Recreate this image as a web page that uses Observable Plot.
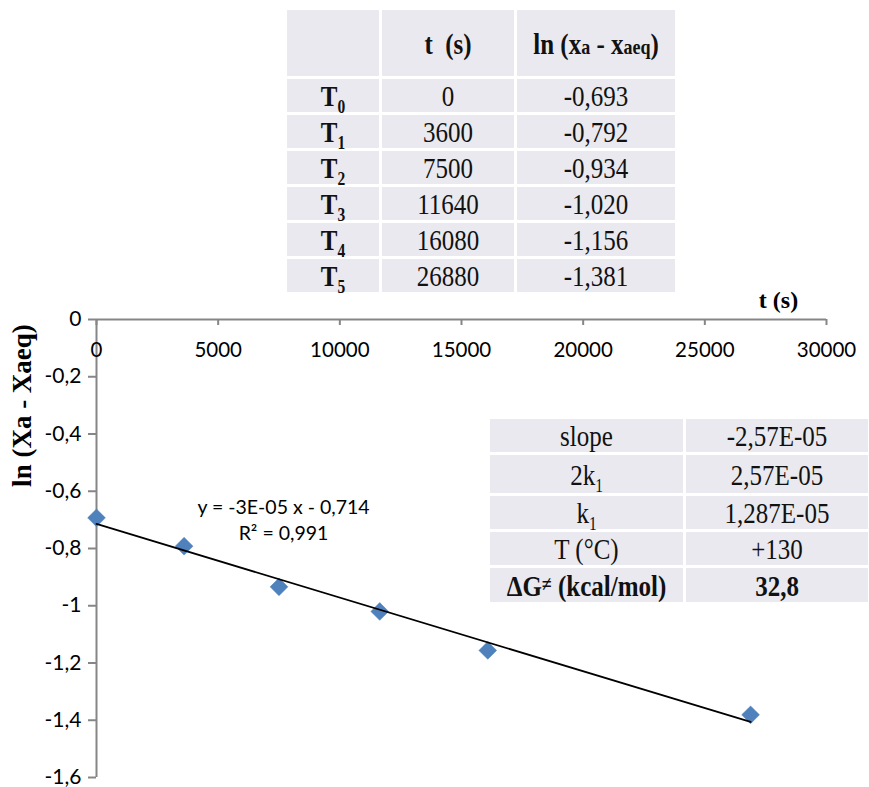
<!DOCTYPE html>
<html><head><meta charset="utf-8">
<script src="https://cdn.jsdelivr.net/npm/d3@7"></script>
<script src="https://cdn.jsdelivr.net/npm/@observablehq/plot@0.6"></script>
<style>
body{margin:0;background:#fff;overflow:hidden}
#wrap{position:relative;width:869px;height:787px}
#wrap svg{position:absolute;left:0;top:0}
table.t{position:absolute;border-collapse:separate;border-spacing:3px;table-layout:fixed;font-family:"Liberation Serif","Times New Roman",serif;font-size:25px;color:#111}
table.t td{background:#eae9ef;text-align:center;padding:0;white-space:nowrap;vertical-align:middle;line-height:1}
.s{display:inline-block;transform:scaleY(1.18)}
.sub{font-size:0.62em;position:relative;top:0.4em}
.hsub{font-size:0.72em}
.neq{font-size:0.72em;position:relative;top:-0.25em}
b{font-weight:bold}
</style></head><body><div id="wrap"></div><script>
// ---- data ----
const rowIdx = ["0","1","2","3","4","5"];
const times = [0, 3600, 7500, 11640, 16080, 26880];
const lnValues = [-0.693, -0.792, -0.934, -1.020, -1.156, -1.381];
const xTicks = [0, 5000, 10000, 15000, 20000, 25000, 30000];
const yTicks = [0, -0.2, -0.4, -0.6, -0.8, -1, -1.2, -1.4, -1.6];
const yTickLabels = ["0", "-0,2", "-0,4", "-0,6", "-0,8", "-1", "-1,2", "-1,4", "-1,6"];
const statLabels = ["slope", "2k<span class='sub'>1</span>", "k<span class='sub'>1</span>", "T (°C)", "<b>ΔG<span class='neq'>≠</span> (kcal/mol)</b>"];
const statValues = ["-2,57E-05", "2,57E-05", "1,287E-05", "+130", "<b>32,8</b>"];
const equationText = ["y = -3E-05 x - 0,714", "R² = 0,991"];
const xTitle = "t (s)";
const yTitle = "ln (Xa - Xaeq)";

const gray = "#868686";
const blue = "#4f81bd";
const data = times.map((t, i) => ({t, v: lnValues[i]}));
const fmt3 = v => v.toFixed(3).replace(".", ",");

const W = 869, H = 787, mT = 319, mL = 96, mR = 43, mB = 10;

const chart = Plot.plot({
  width: W, height: H,
  marginTop: mT, marginLeft: mL, marginRight: mR, marginBottom: mB,
  style: {fontFamily: "Lato, 'Open Sans', sans-serif", fontSize: "20px", color: "#000", background: "transparent", overflow: "visible"},
  x: {domain: [0, 30000], axis: null},
  y: {domain: [-1.6, 0], axis: null},
  marks: [
    Plot.ruleX([0], {x: d => d, stroke: gray, strokeWidth: 2}),
    Plot.ruleY([0], {y: d => d, stroke: gray, strokeWidth: 2}),
    Plot.tickX(xTicks, {x: d => d, stroke: gray, strokeWidth: 2, insetBottom: H - mT - mB - 6}),
    Plot.tickY(yTicks, {y: d => d, stroke: gray, strokeWidth: 2, insetLeft: -8, insetRight: W - mL - mR}),
    Plot.text(xTicks, {x: d => d, frameAnchor: "top", lineAnchor: "middle", dy: 31, text: d => String(d), fontSize: 20.5, fill: "#000"}),
    Plot.text(yTicks, {y: d => d, frameAnchor: "left", lineAnchor: "middle", dx: -15, textAnchor: "end", text: (d, i) => yTickLabels[i], fontSize: 21, fill: "#000"}),
    Plot.dot(data, {x: "t", y: "v", symbol: "diamond2", r: 8, fill: blue, stroke: "#4a7ebb", strokeWidth: 0.5}),
    Plot.linearRegressionY(data, {x: "t", y: "v", ci: 0, stroke: "#000", strokeWidth: 1.8}),
    Plot.text([equationText.join("\n")], {frameAnchor: "top-left", lineAnchor: "middle", dx: 187, dy: 199, lineHeight: 1.35, textAnchor: "middle", fontSize: 19.5, fill: "#000"}),
    Plot.text([xTitle], {frameAnchor: "top-right", lineAnchor: "middle", dx: -48, dy: -19, textAnchor: "middle", fontFamily: "'Liberation Serif', serif", fontWeight: "bold", fontSize: 24, fill: "#000"}),
    Plot.text([yTitle], {frameAnchor: "top-left", lineAnchor: "middle", dx: -74, dy: 86, rotate: -90, textAnchor: "middle", fontFamily: "'Liberation Serif', serif", fontWeight: "bold", fontSize: 27, fill: "#000"})
  ]
});
const wrap = document.getElementById("wrap");
wrap.appendChild(chart);

// ---- top table ----
const S = c => `<span class="s">${c}</span>`;
let html = `<table class="t" style="left:284px;top:7px;width:394px"><colgroup><col style="width:92px"><col style="width:132px"><col style="width:158px"></colgroup>`;
html += `<tr style="height:66px"><td></td><td>${S("<b>t&nbsp; (s)</b>")}</td><td>${S('<b>ln (x<span class="hsub">a</span> - x<span class="hsub">aeq</span>)</b>')}</td></tr>`;
rowIdx.forEach((r, i) => {
  html += `<tr style="height:33px"><td>${S(`<b>T<span class="sub">${r}</span></b>`)}</td><td>${S(times[i])}</td><td>${S(fmt3(lnValues[i]))}</td></tr>`;
});
html += `</table>`;

// ---- stats table ----
const statHeights = [33, 38, 33, 33, 34];
html += `<table class="t" style="left:487px;top:416px;width:384px"><colgroup><col style="width:193px"><col style="width:182px"></colgroup>`;
statLabels.forEach((l, i) => {
  html += `<tr style="height:${statHeights[i]}px"><td>${S(l)}</td><td>${S(statValues[i])}</td></tr>`;
});
html += `</table>`;
wrap.insertAdjacentHTML("beforeend", html);
</script></body></html>
